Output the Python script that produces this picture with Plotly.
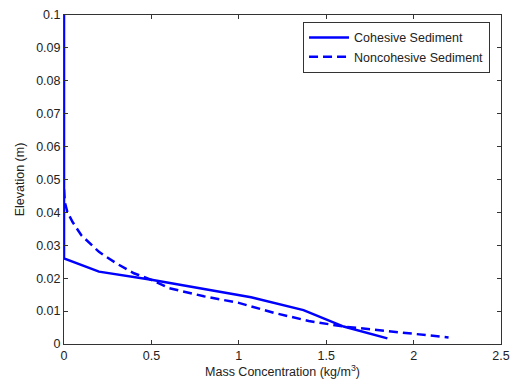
import plotly.graph_objects as go

coh_x = [0, 0, 0.2, 0.5, 1.07, 1.37, 1.6, 1.85]
coh_y = [0.1, 0.026, 0.022, 0.0195, 0.0142, 0.0103, 0.0053, 0.0017]

non_x = [0, 0.005, 0.02, 0.05, 0.1, 0.2, 0.3, 0.4, 0.5, 0.6, 0.8, 1.0, 1.2, 1.4, 1.6, 1.8, 2.0, 2.2]
non_y = [0.047, 0.043, 0.040, 0.037, 0.033, 0.028, 0.0245, 0.0215, 0.0195, 0.0170, 0.0145,
         0.0125, 0.0095, 0.0070, 0.0053, 0.0042, 0.0033, 0.0020]

x_ticks = [0, 0.5, 1, 1.5, 2, 2.5]
x_labels = ["0", "0.5", "1", "1.5", "2", "2.5"]
y_ticks = [0, 0.01, 0.02, 0.03, 0.04, 0.05, 0.06, 0.07, 0.08, 0.09, 0.1]
y_labels = ["0", "0.01", "0.02", "0.03", "0.04", "0.05", "0.06", "0.07", "0.08", "0.09", "0.1"]

FONT = "Liberation Sans, Arial"
fsz = 12.5

fig = go.Figure()
fig.add_trace(go.Scatter(x=coh_x, y=coh_y, mode="lines", name="Cohesive Sediment",
                         line=dict(color="#0000ff", width=2.5)))
fig.add_trace(go.Scatter(x=non_x, y=non_y, mode="lines", name="Noncohesive Sediment",
                         line=dict(color="#0000ff", width=2.5, dash="9px,5px")))

axis_common = dict(showline=True, linecolor="#333", linewidth=1, mirror="ticks",
                   ticks="inside", ticklen=4, tickcolor="#333", showgrid=False,
                   zeroline=False, automargin=False,
                   tickfont=dict(family=FONT, size=fsz, color="#222"))

fig.update_xaxes(range=[0, 2.5], tickvals=x_ticks, ticktext=x_labels,
                 title=dict(text="Mass Concentration (kg/m<sup>3</sup>)",
                            font=dict(family=FONT, size=fsz, color="#222"), standoff=4),
                 **axis_common)
fig.update_yaxes(range=[0, 0.1], tickvals=y_ticks, ticktext=y_labels,
                 title=dict(text="Elevation (m)",
                            font=dict(family=FONT, size=fsz, color="#222"), standoff=8),
                 **axis_common)

fig.update_layout(
    width=510, height=387,
    margin=dict(l=64, r=9, t=15, b=43),
    paper_bgcolor="white", plot_bgcolor="white",
    legend=dict(x=0.547, y=0.979, xanchor="left", yanchor="top",
                bordercolor="#333", borderwidth=1, bgcolor="white",
                font=dict(family=FONT, size=fsz, color="#222"),
                tracegroupgap=0, itemwidth=40),
    showlegend=True,
)

fig.write_html("out.html")
